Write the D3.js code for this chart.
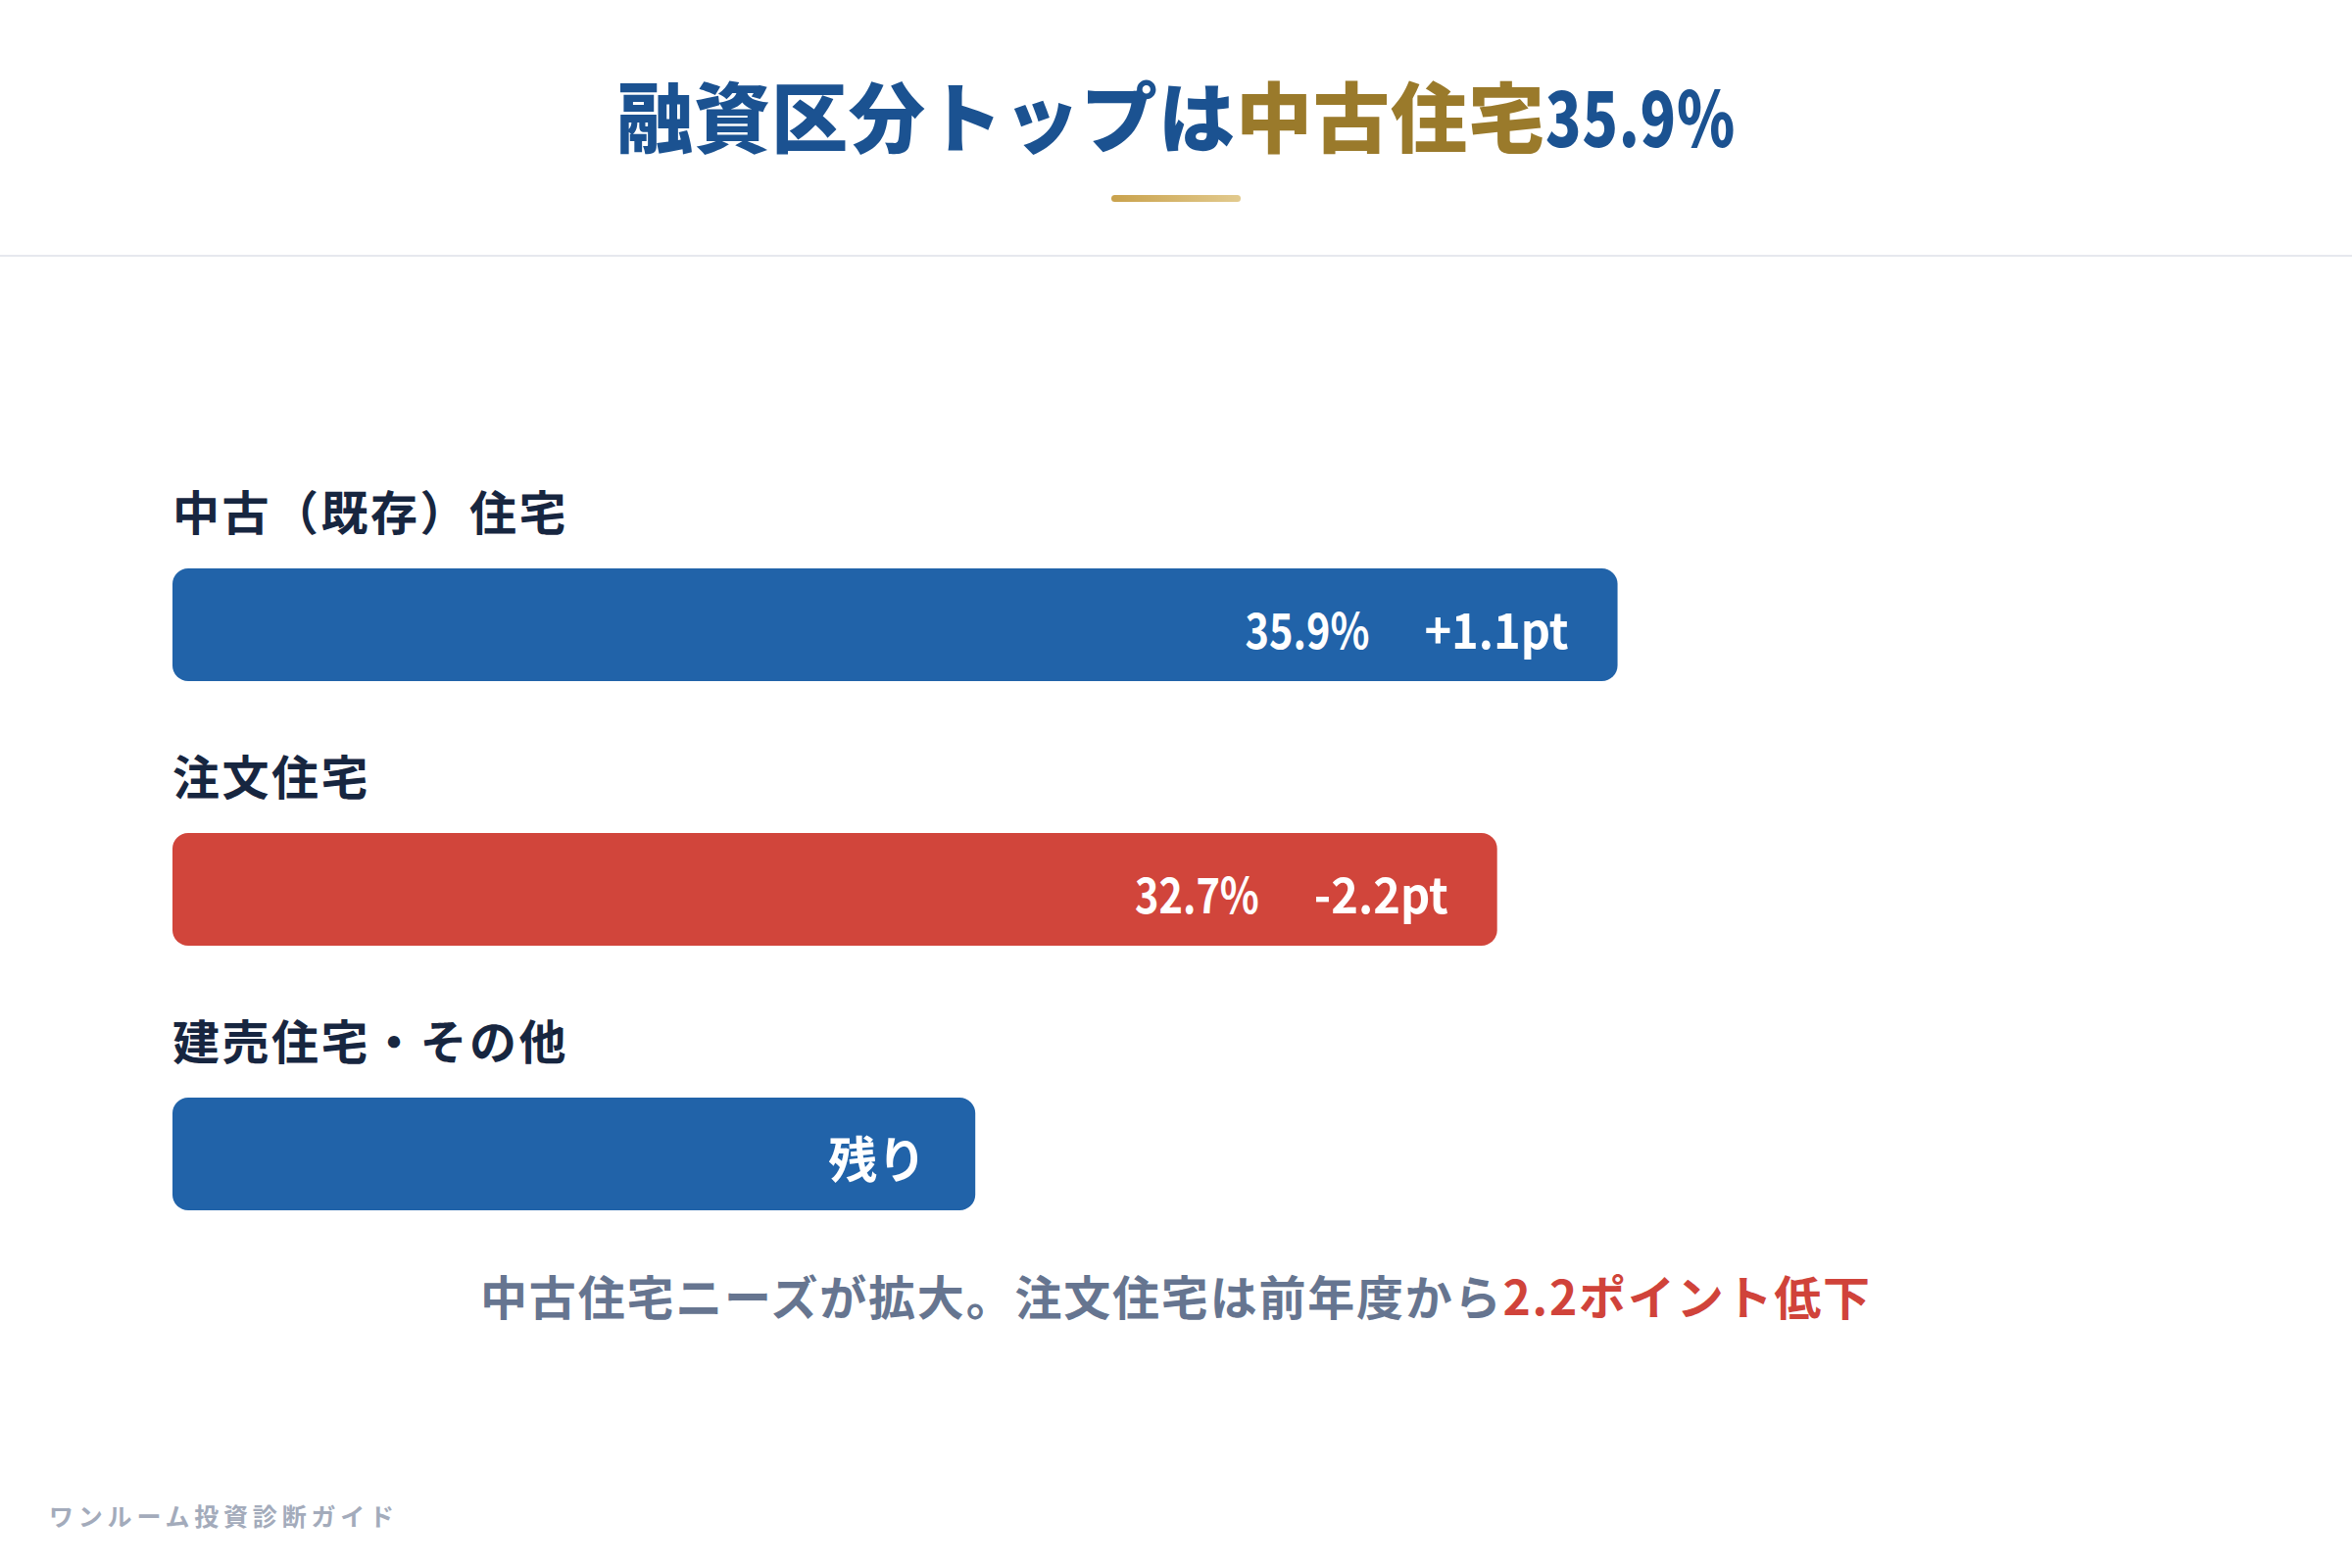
<!DOCTYPE html>
<html>
<head>
<meta charset="utf-8">
<script src="https://cdn.jsdelivr.net/npm/d3@7"></script>
<style>
  html, body { margin: 0; padding: 0; background: #fff; }
  svg { display: block; }
  text { font-family: "Noto Sans CJK JP", "Noto Sans", sans-serif; }
</style>
</head>
<body>
<div id="chart"></div>
<script>
var width = 2400;
var height = 1600;

// data
var categories = ["中古（既存）住宅", "注文住宅", "建売住宅・その他"];
var shares = [35.9, 32.7, null];
var deltas = ["+1.1pt", "-2.2pt", ""];
var barLengths = [72, 66, 40];       // bar length, percent of the track
var barColors = ["#2163a9", "#d1453b", "#2163a9"];
var restLabel = "残り";

// squeeze = horizontal scale, the picture uses narrow digits
var titleParts = [
  {text: "融資区分トップは", color: "#1b5291", squeeze: 1},
  {text: "中古住宅", color: "#9a7a2b", squeeze: 1},
  {text: "35.9%", color: "#1b5291", squeeze: 0.77}
];
var noteParts = [
  {text: "中古住宅ニーズが拡大。注文住宅は前年度から", color: "#667590"},
  {text: "2.2ポイント低下", color: "#d0433a"}
];
var footer = "ワンルーム投資診断ガイド";

var marginLeft = 176;
var trackWidth = width - marginLeft * 2;
var firstBarTop = 580;
var rowStep = 270;
var barHeight = 115;

var svg = d3.select("#chart")
  .append("svg")
  .attr("width", width)
  .attr("height", height);

// title, built piece by piece so the digits can be narrowed
var title = svg.append("g");
var pieces = title.selectAll("text")
  .data(titleParts)
  .enter().append("text")
  .attr("fill", function(d) { return d.color; })
  .style("font-size", "78px")
  .style("font-weight", 900)
  .style("letter-spacing", "1px")
  .text(function(d) { return d.text; });
var widths = [];
pieces.each(function(d) { widths.push(this.getComputedTextLength() * d.squeeze); });
var cx = width / 2 - d3.sum(widths) / 2;
pieces.attr("transform", function(d, i) {
  var t = "translate(" + cx + ",150) scale(" + d.squeeze + ",1)";
  cx += widths[i];
  return t;
});

var grad = svg.append("defs").append("linearGradient")
  .attr("id", "gold")
  .attr("x1", "0%").attr("x2", "100%");
grad.append("stop").attr("offset", "0%").attr("stop-color", "#c9a24c");
grad.append("stop").attr("offset", "100%").attr("stop-color", "#e2ca8e");

svg.append("rect")
  .attr("x", width / 2 - 66)
  .attr("y", 199)
  .attr("width", 132)
  .attr("height", 7)
  .attr("rx", 3.5)
  .attr("fill", "url(#gold)");

svg.append("line")
  .attr("x1", 0).attr("x2", width)
  .attr("y1", 261).attr("y2", 261)
  .attr("stroke", "#e6e8ee")
  .attr("stroke-width", 2);

var x = d3.scaleLinear()
  .domain([0, 100])
  .range([0, trackWidth]);

var y = d3.scaleLinear()
  .domain([0, 1])
  .range([firstBarTop, firstBarTop + rowStep]);

var rows = svg.selectAll("g.row")
  .data(categories)
  .enter().append("g")
  .attr("class", "row")
  .attr("transform", function(d, i) { return "translate(" + marginLeft + "," + y(i) + ")"; });

rows.append("text")
  .attr("x", 0)
  .attr("y", -39)
  .attr("fill", "#172640")
  .style("font-size", "48px")
  .style("font-weight", 700)
  .style("letter-spacing", "2.5px")
  .text(function(d) { return d; });

rows.append("rect")
  .attr("x", 0)
  .attr("y", 0)
  .attr("width", function(d, i) { return x(barLengths[i]); })
  .attr("height", barHeight)
  .attr("rx", 16)
  .attr("fill", function(d, i) { return barColors[i]; });

function barText(g, xEnd, squeeze, str) {
  return g.append("text")
    .attr("transform", "translate(" + xEnd + ",82) scale(" + squeeze + ",1)")
    .attr("text-anchor", "end")
    .attr("fill", "#fff")
    .style("font-size", "50px")
    .style("font-weight", 700)
    .text(str);
}

rows.each(function(d, i) {
  var g = d3.select(this);
  var right = x(barLengths[i]) - 50;
  if (shares[i] == null) {
    barText(g, right, 1, restLabel);
    return;
  }
  var dt = barText(g, right, 0.94, deltas[i]);
  var w = dt.node().getComputedTextLength() * 0.94;
  barText(g, right - w - 56, 0.83, d3.format(".1f")(shares[i]) + "%");
});

// note under the bars
var note = svg.append("text")
  .attr("x", width / 2)
  .attr("y", 1342)
  .attr("text-anchor", "middle")
  .style("font-size", "48px")
  .style("font-weight", 700)
  .style("letter-spacing", "1.8px");
note.selectAll("tspan")
  .data(noteParts)
  .enter().append("tspan")
  .attr("fill", function(d) { return d.color; })
  .text(function(d) { return d.text; });

svg.append("text")
  .attr("x", 50)
  .attr("y", 1557)
  .attr("fill", "#a3abbb")
  .style("font-size", "25px")
  .style("font-weight", 700)
  .style("letter-spacing", "4.8px")
  .text(footer);
</script>
</body>
</html>
